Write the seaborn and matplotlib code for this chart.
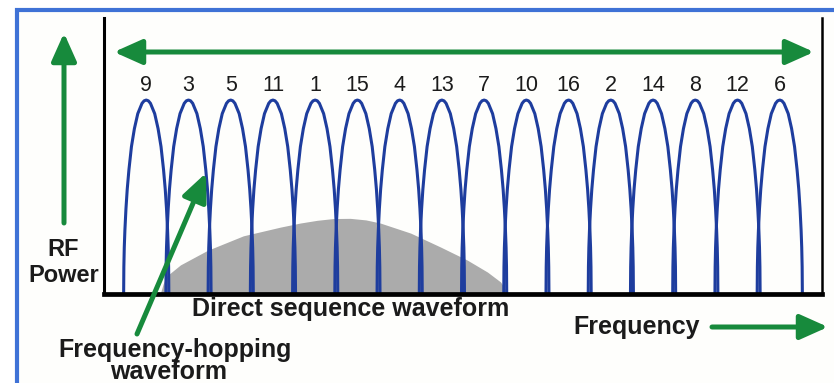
import matplotlib
matplotlib.use("Agg")
import matplotlib.pyplot as plt
from matplotlib.patches import Rectangle, FancyArrowPatch
import seaborn as sns
import pandas as pd

sns.set_style("white")
plt.rcParams["font.family"] = ["Liberation Sans", "DejaVu Sans"]

# hop order of the 16 channels, left to right
hop_labels = ["9", "3", "5", "11", "1", "15", "4", "13", "7", "10", "16", "2", "14", "8", "12", "6"]
channel_pos = list(range(1, 17))

# half profile of one hop lobe (offset in channel widths, relative power)
lobe_dx = [0.0, 0.05, 0.10, 0.20, 0.28, 0.35, 0.41, 0.45, 0.48, 0.505, 0.52, 0.53, 0.535]
lobe_p = [1.0, 0.996, 0.983, 0.93, 0.853, 0.76, 0.64, 0.54, 0.44, 0.33, 0.24, 0.14, 0.0]

# direct sequence spectrum outline
dsss_x = [1.33, 1.40, 1.47, 1.81, 2.45, 3.30, 4.18, 4.65, 5.05, 5.43, 5.83, 6.20, 6.54, 7.26,
          7.97, 8.60, 9.08, 9.39, 9.51, 9.55]
dsss_y = [0.0, 0.052, 0.09, 0.15, 0.225, 0.30, 0.345, 0.366, 0.38, 0.389, 0.39, 0.382, 0.366,
          0.314, 0.242, 0.175, 0.113, 0.062, 0.021, 0.0]

BLUE = "#1e3d9e"
GREEN = "#178a3c"
GRAY = "#ababab"
INK = "#1b1b1b"

rows = []
for pos, lab in zip(channel_pos, hop_labels):
    xs = [pos - d for d in lobe_dx[::-1]] + [pos + d for d in lobe_dx[1:]]
    ps = lobe_p[::-1] + lobe_p[1:]
    for x, p in zip(xs, ps):
        rows.append({"channel": lab, "freq": x, "power": p})
df = pd.DataFrame(rows)

W, H = 834, 383


def px(x, y):
    return (x / W, 1 - y / H)


fig = plt.figure(figsize=(W / 100, H / 100), dpi=100)
fig.patch.set_facecolor("white")

# blue page frame (only left and top edges are visible)
fig.add_artist(Rectangle((17 / W, -0.1), 1.0, 1 - 10 / H + 0.1, transform=fig.transFigure,
                         facecolor="#fefefc", edgecolor="#3f72d6", lw=3, zorder=-1))

ax = fig.add_axes([104 / W, 1 - 294 / H, 718 / W, 276 / H])
ax.set_facecolor("none")

ax.fill_between(dsss_x, dsss_y, 0, color=GRAY, lw=0, zorder=1)
sns.lineplot(data=df, x="freq", y="power", units="channel", estimator=None, sort=False,
             color=BLUE, lw=2.2, legend=False, ax=ax, zorder=2)

for pos, lab in zip(channel_pos, hop_labels):
    ax.text(pos, 1.077, lab, ha="center", va="center", fontsize=15.5, color=INK)

ax.set_xlim(0, 17)
ax.set_ylim(0, 1.423)
ax.set_xticks([])
ax.set_yticks([])
ax.set_xlabel("")
ax.set_ylabel("")
ax.spines["top"].set_visible(False)
for side, w in [("left", 2.2), ("right", 1.8), ("bottom", 3.4)]:
    ax.spines[side].set_color("black")
    ax.spines[side].set_linewidth(w)

# green arrows
def arrow(p0, p1, style="-|>"):
    fig.add_artist(FancyArrowPatch(px(*p0), px(*p1), transform=fig.transFigure,
                                   arrowstyle=f"{style},head_length=0.85,head_width=0.38",
                                   mutation_scale=20, lw=3.6, color=GREEN,
                                   shrinkA=0, shrinkB=0, zorder=3))


arrow((114, 52), (814, 52), "<|-|>")
arrow((64, 223), (64, 33))
arrow((712, 327), (828, 327))
arrow((137, 334), (206, 173))

bold = dict(fontweight="bold", color=INK, ha="center", va="center")
fig.text(*px(63, 250), "RF", fontsize=17, **bold)
fig.text(*px(64, 275), "Power", fontsize=17, **bold)
fig.text(*px(351, 309), "Direct sequence waveform", fontsize=18, **bold)
fig.text(*px(637, 327), "Frequency", fontsize=18, **bold)
fig.text(*px(175, 350), "Frequency-hopping", fontsize=18, **bold)
fig.text(*px(169, 372), "waveform", fontsize=18, **bold)

fig.savefig("out.png", dpi=100)
